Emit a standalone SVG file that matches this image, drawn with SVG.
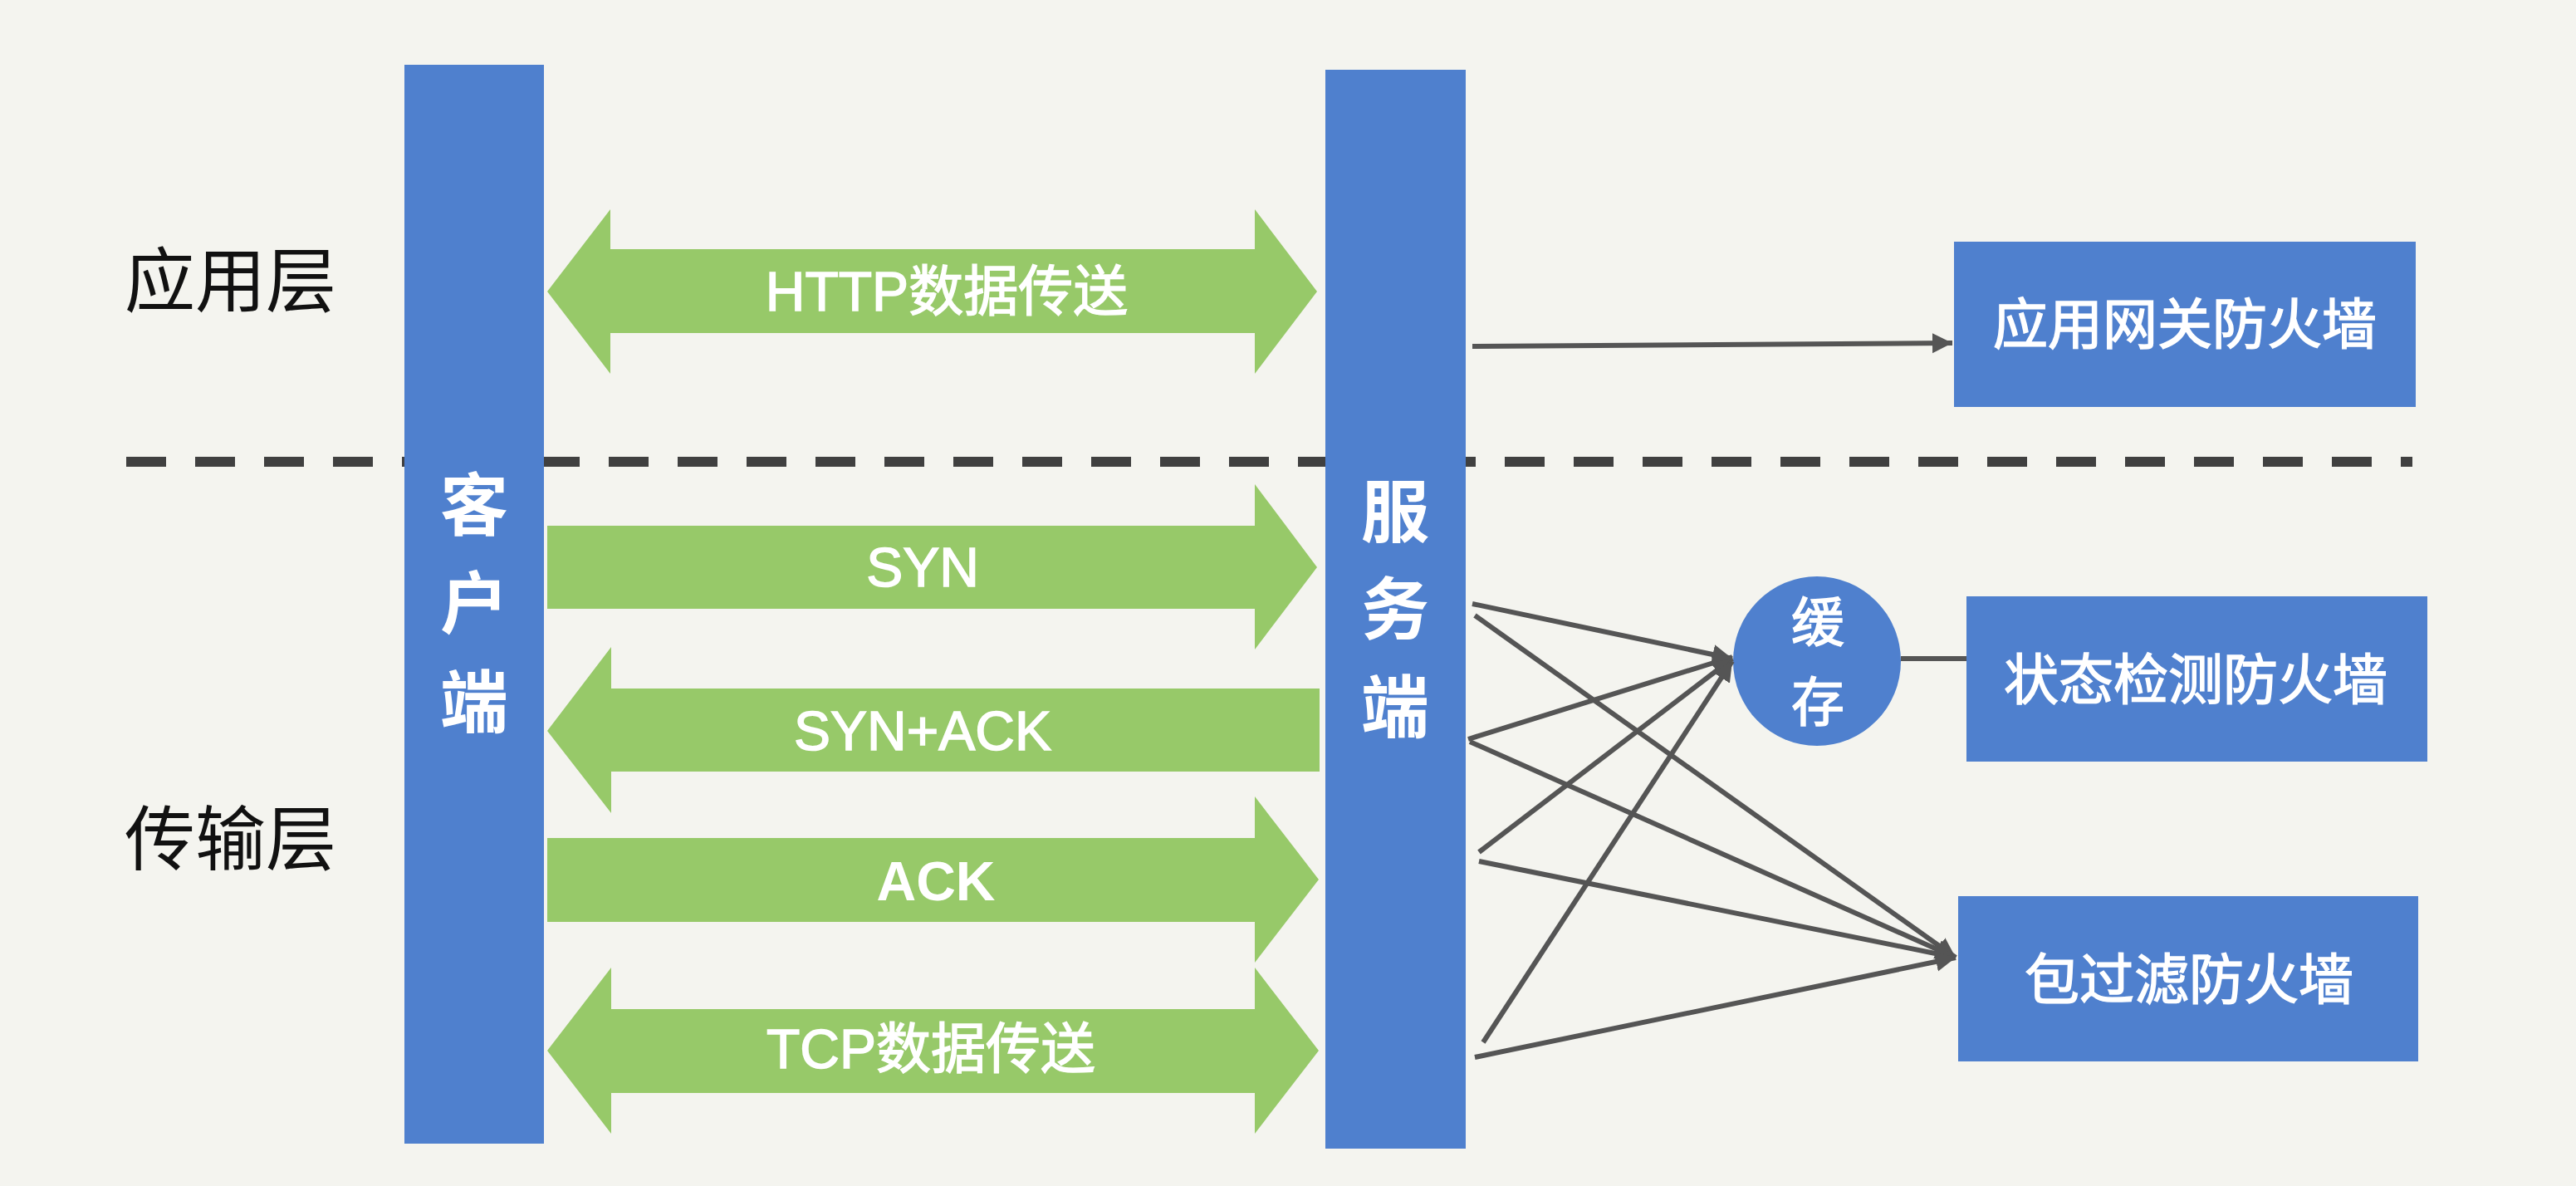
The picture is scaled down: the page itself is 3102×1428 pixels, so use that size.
<svg xmlns="http://www.w3.org/2000/svg" width="3102" height="1428" viewBox="0 0 3102 1428">
<defs>
<style>
.bg{fill:#F4F4EF}
.bar{fill:#4F80CE}
.box{fill:#4F80CE}
.arr{fill:#97C969}
.wt{fill:#FFFFFF;font-family:"Liberation Sans","Noto Sans CJK SC",sans-serif;dominant-baseline:central;text-anchor:middle}
.med{stroke:#FFFFFF;stroke-width:1.5}
.lbl{fill:#111111;font-family:"Liberation Sans","Noto Sans CJK SC",sans-serif;font-size:85px;dominant-baseline:central}
.con{stroke:#555555;stroke-width:6;fill:none}
</style>
<marker id="ah" markerUnits="userSpaceOnUse" markerWidth="26" markerHeight="26" refX="24" refY="12" orient="auto">
<path d="M0,0 L24,12 L0,24 z" fill="#555555"/>
</marker>
</defs>
<rect class="bg" x="0" y="0" width="3102" height="1428"/>
<g id="divider">
<line x1="152" y1="556" x2="2905" y2="556" stroke="#404040" stroke-width="12" stroke-dasharray="48 35"/>
</g>
<g id="layer-app"><text class="lbl" x="150" y="339">应用层</text></g>
<g id="layer-transport"><text class="lbl" x="150" y="1011">传输层</text></g>
<g id="client">
<rect class="bar" x="487" y="78" width="168" height="1299"/>
<text class="wt" font-size="82" font-weight="bold" x="571" y="609">客</text>
<text class="wt" font-size="82" font-weight="bold" x="571" y="727">户</text>
<text class="wt" font-size="82" font-weight="bold" x="571" y="846">端</text>
</g>
<g id="server">
<rect class="bar" x="1596" y="84" width="169" height="1299"/>
<text class="wt" font-size="82" font-weight="bold" x="1680" y="617">服</text>
<text class="wt" font-size="82" font-weight="bold" x="1680" y="734">务</text>
<text class="wt" font-size="82" font-weight="bold" x="1680" y="852">端</text>
</g>
<g id="http-arrow">
<polygon class="arr" points="659,351 735,252 735,300 1511,300 1511,252 1586,351 1511,450 1511,401 735,401 735,450"/>
<text class="wt med" font-size="66" x="1140" y="351">HTTP数据传送</text>
</g>
<g id="syn-arrow">
<polygon class="arr" points="659,633 1511,633 1511,583 1586,683 1511,782 1511,733 659,733"/>
<text class="wt med" font-size="66" x="1111" y="683">SYN</text>
</g>
<g id="synack-arrow">
<polygon class="arr" points="659,880 736,779 736,829 1589,829 1589,929 736,929 736,979"/>
<text class="wt med" font-size="66" x="1111" y="880">SYN+ACK</text>
</g>
<g id="ack-arrow">
<polygon class="arr" points="659,1009 1511,1009 1511,959 1588,1059 1511,1159 1511,1110 659,1110"/>
<text class="wt" font-size="66" font-weight="bold" x="1127" y="1061">ACK</text>
</g>
<g id="tcp-arrow">
<polygon class="arr" points="659,1265 736,1165 736,1215 1511,1215 1511,1165 1588,1265 1511,1365 1511,1316 736,1316 736,1365"/>
<text class="wt med" font-size="66" x="1121" y="1263">TCP数据传送</text>
</g>
<g id="gateway-fw">
<rect class="box" x="2353" y="291" width="556" height="199"/>
<text class="wt med" font-size="66" x="2631" y="391">应用网关防火墙</text>
</g>
<g id="cache">
<ellipse class="box" cx="2188" cy="796" rx="101" ry="102"/>
<text class="wt med" font-size="64" x="2189" y="750">缓</text>
<text class="wt med" font-size="64" x="2189" y="846">存</text>
</g>
<g id="stateful-fw">
<rect class="box" x="2368" y="718" width="555" height="199"/>
<text class="wt med" font-size="66" x="2644" y="819">状态检测防火墙</text>
</g>
<g id="packet-fw">
<rect class="box" x="2358" y="1079" width="554" height="199"/>
<text class="wt med" font-size="66" x="2636" y="1180">包过滤防火墙</text>
</g>
<g id="connectors">
<line class="con" x1="1773" y1="417" x2="2351" y2="413" marker-end="url(#ah)"/>
<line class="con" x1="2289" y1="793" x2="2368" y2="793"/>
<line class="con" x1="1773" y1="727" x2="2086" y2="793" marker-end="url(#ah)"/>
<line class="con" x1="1776" y1="741" x2="2355" y2="1153" marker-end="url(#ah)"/>
<line class="con" x1="1768" y1="890" x2="2086" y2="791" marker-end="url(#ah)"/>
<line class="con" x1="1770" y1="893" x2="2355" y2="1153" marker-end="url(#ah)"/>
<line class="con" x1="1781" y1="1026" x2="2086" y2="793" marker-end="url(#ah)"/>
<line class="con" x1="1781" y1="1037" x2="2355" y2="1153" marker-end="url(#ah)"/>
<line class="con" x1="1786" y1="1255" x2="2086" y2="796" marker-end="url(#ah)"/>
<line class="con" x1="1776" y1="1273" x2="2355" y2="1153" marker-end="url(#ah)"/>
</g>
</svg>
